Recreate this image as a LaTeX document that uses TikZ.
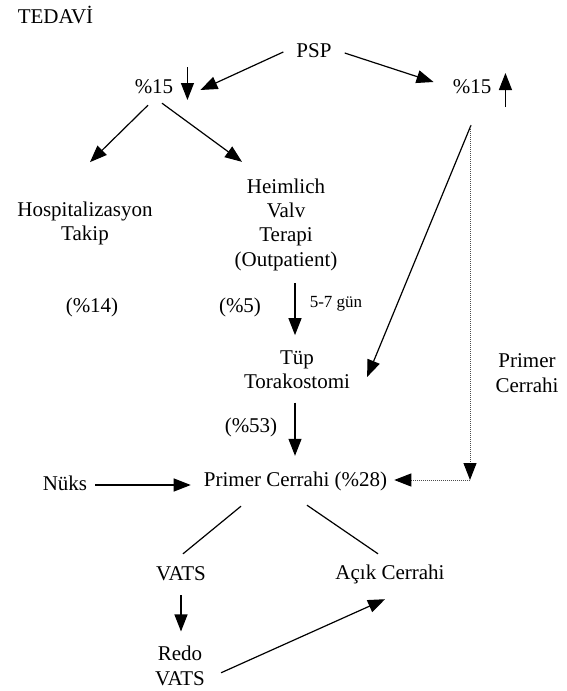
\documentclass[tikz,border=0pt]{standalone}
\usepackage{fontspec}
\setmainfont{Liberation Serif}
\usepackage{tikz}
\usetikzlibrary{arrows.meta, calc, positioning}

\begin{document}
\begin{tikzpicture}[
    x=1pt, y=-1pt,
    font=\fontsize{21}{24.3}\selectfont,
    txt/.style={inner sep=0pt, text height=14pt, text depth=4pt},
    multi/.style={inner sep=0pt, align=center},
    note/.style={inner sep=0pt, font=\fontsize{17}{20}\selectfont, text height=11pt, text depth=3pt},
    arrow/.style={-{Triangle[length=17pt, width=13pt]}, line width=1.2pt},
    link/.style={line width=1.2pt},
    dots/.style={-{Triangle[length=17pt, width=13pt, color=black]}, line width=1pt, black!70, dash pattern=on 1pt off 1pt}
]
\useasboundingbox (0,0) rectangle (566,691);

% Title
\node[txt] (tedavi) at (55.5,18) {TEDAVİ};

% Top level
\node[txt] (psp) at (314,52) {PSP};
\node[txt] (pL) at (154,88) {\%15};
\node[txt] (pR) at (472,88) {\%15};

% Conservative branch
\node[multi] (hosp) at (85,223.5) {Hospitalizasyon\\Takip};
\node[multi] (heim) at (286,224.5) {Heimlich\\Valv\\Terapi\\(Outpatient)};
\node[txt] (p14) at (92,307) {(\%14)};
\node[txt] (p5) at (240,307) {(\%5)};
\node[note] (gun) at (336,303) {5-7 gün};

% Tube
\node[multi] (tup) at (297,370) {Tüp\\Torakostomi};
\node[multi] (prim2) at (527,373) {Primer\\Cerrahi};
\node[txt] (p53) at (251,427) {(\%53)};

% Surgery
\node[txt] (nuks) at (65,485) {Nüks};
\node[txt] (pc) at (295.5,481) {Primer Cerrahi (\%28)};
\node[txt] (vats) at (181,575) {VATS};
\node[txt] (acik) at (390,574) {Açık Cerrahi};
\node[multi] (redo) at (180,665.75) {Redo\\VATS};

\coordinate (bend) at ($(pR.south |- pc.east)+(-2,-1)$);

% Arrows
\draw[arrow] ($(psp.west)+(-13,0)$) -- ($(pL.east)+(27,2)$);
\draw[arrow] ($(psp.east)+(13,1)$) -- ($(pR.west)+(-19,-6)$);
\draw[arrow] ($(pL.east)+(14,-21)$) -- ($(pL.east)+(14,12)$);
\draw[arrow] ($(pR.east)+(14,19)$) -- ($(pR.east)+(14,-15)$);
\draw[arrow] ($(pL.south)+(-6,8)$) -- ($(hosp.north)+(5,-39.5)$);
\draw[arrow] ($(pL.south)+(8,6)$) -- ($(heim.north)+(-44,-16.5)$);
\draw[arrow] ($(heim.south)+(9,12.4)$) -- ($(tup.north)+(-2,-15.5)$);
\draw[arrow] ($(tup.south)+(-2,13.4)$) -- ($(pc.north)+(-0.5,-16)$);
\draw[arrow] ($(pR.south)+(-1,28)$) -- ($(tup.east)+(17,7)$);
\draw[dots] ($(pR.south)+(-2,28)$) -- (bend);
\draw[dots] (bend) -- ($(pc.east)+(7,-1)$);
\draw[arrow] ($(nuks.east)+(8,0)$) -- ($(pc.west)+(-13,4)$);
\draw[link] ($(pc.south)+(-54.5,16)$) -- ($(vats.north)+(2,-12)$);
\draw[link] ($(pc.south)+(11.5,15)$) -- ($(acik.north)+(-12,-11)$);
\draw[arrow] ($(vats.south)+(0,11)$) -- ($(redo.north)+(1,-14.5)$);
\draw[arrow] ($(redo.east)+(16,7)$) -- ($(acik.south)+(-5,16)$);

\end{tikzpicture}
\end{document}
